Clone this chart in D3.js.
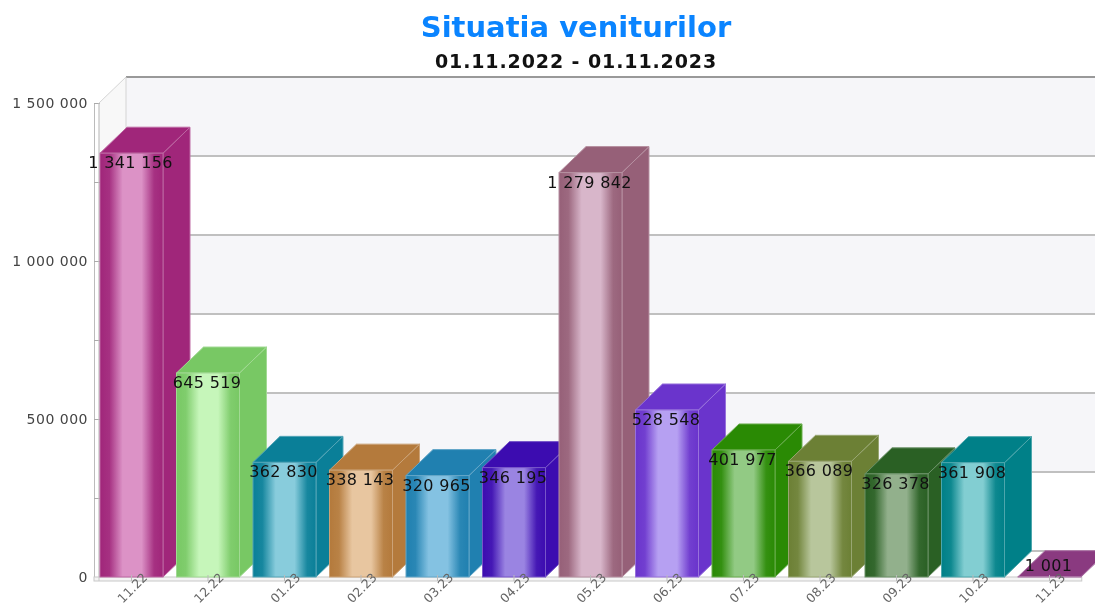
<!DOCTYPE html>
<html>
<head>
<meta charset="utf-8">
<script src="https://cdn.jsdelivr.net/npm/d3@7"></script>
<style>
    html, body { margin: 0; padding: 0; background: #fff; overflow: hidden; }
    svg { display: block; filter: blur(0.35px); }
    text { font-family: "DejaVu Sans", Verdana, sans-serif; }
</style>
</head>
<body>
<div id="chart"></div>
<script>
// chart data
const months = ["11.22", "12.22", "01.23", "02.23", "03.23", "04.23", "05.23", "06.23", "07.23", "08.23", "09.23", "10.23", "11.23"];
const values = [1341156, 645519, 362830, 338143, 320965, 346195, 1279842, 528548, 401977, 366089, 326378, 361908, 1001];
const yTicks = [0, 250000, 500000, 750000, 1000000, 1250000, 1500000];
const yLabelled = [0, 500000, 1000000, 1500000];

// bar colours: dark is used for the side, top and edge of the gradient
const darkColors = ["#a0267a", "#78c864", "#0a7f98", "#b47a3c", "#2080b0", "#3c0cb0", "#966078", "#6a34cc", "#2a8a04", "#6c8035", "#2a6024", "#008088", "#8a3a80"];
const lightColors = ["#dc92c6", "#c6f6ba", "#88ccdc", "#e8c6a0", "#84c2e2", "#9a84e2", "#d8b6ca", "#b6a0f2", "#92ca84", "#b8c69c", "#92b08c", "#82ced2", "#c89cc0"];

const width = 1095;
const height = 607;
const depthX = 27;
const depthY = 26;
const baseY = 577;
const topY = 103;
const axisX = 94;
const bandStep = 76.5;
const barStart = 93.25;
const fmt = d3.formatLocale({ decimal: ",", thousands: " ", grouping: [3], currency: ["", ""] }).format(",d");

const svg = d3.select("#chart").append("svg")
    .attr("width", width)
    .attr("height", height);

const x = d3.scaleBand()
    .domain(months)
    .range([barStart, barStart + bandStep * months.length])
    .paddingInner(0.1765)
    .paddingOuter(0.0882);

const y = d3.scaleLinear()
    .domain([0, 1500000])
    .range([baseY, topY]);

const poly = pts => pts.map(p => p.join(",")).join(" ");

// Titles
svg.append("text")
    .attr("x", 576).attr("y", 37)
    .attr("text-anchor", "middle")
    .attr("font-size", 29).attr("font-weight", "bold")
    .attr("fill", "#0a84ff")
    .text("Situatia veniturilor");

svg.append("text")
    .attr("x", 576).attr("y", 68)
    .attr("text-anchor", "middle")
    .attr("font-size", 19).attr("font-weight", "bold")
    .attr("letter-spacing", 0.9)
    .attr("fill", "#111")
    .text("01.11.2022 - 01.11.2023");

// Back wall, alternating stripes between the grid lines
const wallX = axisX + 5 + depthX;
const stripes = d3.pairs(yTicks);
svg.append("g").selectAll("rect")
    .data(stripes)
    .enter().append("rect")
    .attr("x", wallX)
    .attr("width", width - wallX)
    .attr("y", d => y(d[1]) - depthY)
    .attr("height", d => y(d[0]) - y(d[1]))
    .attr("fill", (d, i) => i % 2 === 1 ? "#f6f6f9" : "#ffffff");

svg.append("g").selectAll("line")
    .data(yTicks)
    .enter().append("line")
    .attr("x1", wallX).attr("x2", width)
    .attr("y1", d => y(d) - depthY)
    .attr("y2", d => y(d) - depthY)
    .attr("stroke", (d, i) => i === yTicks.length - 1 ? "#999" : "#c0c0c0")
    .attr("stroke-width", 2);

// Left wall
svg.append("polygon")
    .attr("points", poly([[axisX + 5, y(1500000)], [wallX, y(1500000) - depthY], [wallX, y(0) - depthY], [axisX + 5, y(0)]]))
    .attr("fill", "#f8f8f8")
    .attr("stroke", "#d4d4d4");

// Y axis
const yAxis = d3.axisLeft(y)
    .tickValues(yTicks)
    .tickSize(-6)
    .tickFormat(d => yLabelled.includes(d) ? fmt(d) : "");

const yG = svg.append("g")
    .attr("transform", `translate(${axisX},0)`)
    .call(yAxis);

yG.select(".domain").attr("stroke", "#bbb");
yG.selectAll(".tick line").attr("stroke", "#aaa");
yG.selectAll(".tick text")
    .attr("x", -6)
    .attr("font-size", 14)
    .attr("letter-spacing", 0.5)
    .attr("fill", "#444");

// Floor band under the bars
svg.append("rect")
    .attr("x", axisX).attr("y", baseY)
    .attr("width", barStart + bandStep * months.length - axisX - 6)
    .attr("height", 4)
    .attr("fill", "#f4f4f4")
    .attr("stroke", "#c8c8c8");

svg.append("line")
    .attr("x1", axisX + 5).attr("x2", axisX + 5)
    .attr("y1", topY).attr("y2", baseY + 4)
    .attr("stroke", "#c8c8c8");

// Gradients for the bar fronts
const defs = svg.append("defs");
const grad = defs.selectAll("linearGradient")
    .data(months)
    .enter().append("linearGradient")
    .attr("id", (d, i) => "bar" + i);

[[0, 0], [0.15, 0.1], [0.36, 1], [0.66, 1], [0.86, 0.1], [1, 0]].forEach(s => {
    grad.append("stop")
        .attr("offset", s[0])
        .attr("stop-color", (d, i) => d3.interpolateRgb(darkColors[i], lightColors[i])(s[1]));
});

// Bars
const bar = svg.append("g").selectAll("g")
    .data(months)
    .enter().append("g");

const edge = (d, i) => d3.interpolateRgb(darkColors[i], "#ffffff")(0.3);

bar.append("polygon")
    .attr("points", (d, i) => {
        const r = x(d) + x.bandwidth();
        return poly([[r, y(values[i])], [r + depthX, y(values[i]) - depthY], [r + depthX, y(0) - depthY], [r, y(0)]]);
    })
    .attr("fill", (d, i) => darkColors[i])
    .attr("stroke", edge);

bar.append("polygon")
    .attr("points", (d, i) => {
        const l = x(d);
        const r = l + x.bandwidth();
        const t = y(values[i]);
        return poly([[l, t], [l + depthX, t - depthY], [r + depthX, t - depthY], [r, t]]);
    })
    .attr("fill", (d, i) => darkColors[i])
    .attr("stroke", edge);

bar.append("rect")
    .attr("x", d => x(d))
    .attr("y", (d, i) => y(values[i]))
    .attr("width", x.bandwidth())
    .attr("height", (d, i) => y(0) - y(values[i]))
    .attr("fill", (d, i) => `url(#bar${i})`)
    .attr("stroke", edge);

// Value labels go above every bar
svg.append("g").selectAll("text")
    .data(months)
    .enter().append("text")
    .attr("x", d => x(d) + x.bandwidth() / 2 - 1)
    .attr("y", (d, i) => Math.min(y(values[i]) + 15, 571))
    .attr("text-anchor", "middle")
    .attr("font-size", 16)
    .attr("letter-spacing", 0.35)
    .attr("fill", "#111")
    .text((d, i) => fmt(values[i]));

// X axis with rotated labels
const xG = svg.append("g")
    .attr("transform", `translate(0,${baseY + 4})`)
    .call(d3.axisBottom(x).tickSize(-6));

xG.select(".domain").remove();
xG.selectAll(".tick line").attr("stroke", "#bbb");
xG.selectAll(".tick text")
    .attr("y", 0).attr("dy", 0)
    .attr("text-anchor", "middle")
    .attr("transform", "translate(4,10) rotate(-45)")
    .attr("font-size", 12.5)
    .attr("fill", "#666");
</script>
</body>
</html>
